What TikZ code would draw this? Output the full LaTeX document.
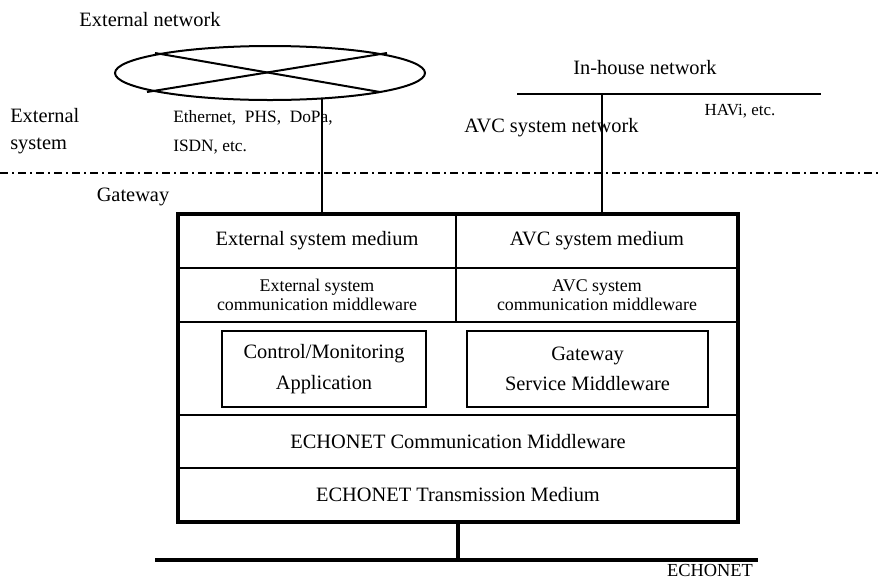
\documentclass[tikz,border=0pt]{standalone}
\usepackage{fontspec}
\setmainfont{Liberation Serif}
\usetikzlibrary{shapes.geometric}
\begin{document}
\begin{tikzpicture}[x=0.75pt,y=-0.75pt,
  thin line/.style={line width=1.5pt},
  big/.style={font=\fontsize{15.3}{18}\selectfont, inner sep=0pt},
  mid/.style={font=\fontsize{13.4}{14.6}\selectfont, inner sep=0pt, align=center},
  cell/.style={draw, line width=1.5pt, inner sep=0pt, align=center, font=\fontsize{15.3}{23}\selectfont},
  smallcell/.style={draw, line width=1.5pt, inner sep=0pt, align=center, font=\fontsize{13.4}{14.4}\selectfont},
  dashdot/.style={line width=1.3pt, dash pattern=on 6pt off 3pt on 1.5pt off 3pt}
]
\useasboundingbox (0,0) rectangle (882,583);

% external network
\node[big] (extnet) at (150,20) {External network};
\node[draw, thin line, ellipse, inner sep=0pt, minimum width=310*0.75pt, minimum height=54*0.75pt] (cloud) at (270,73) {};
\coordinate (xa) at (155,53);
\coordinate (xb) at (380,92);
\coordinate (xc) at (147,92);
\coordinate (xd) at (387,53);
\draw[thin line] (xa) -- (xb);
\draw[thin line] (xc) -- (xd);

% labels
\node[big, anchor=west, align=left, font=\fontsize{15.3}{20}\selectfont] (extsys) at (10,131) {External\\system};
\node[anchor=west, align=left, inner sep=0pt, font=\fontsize{13}{21.75}\selectfont] (media) at (173,132.5) {Ethernet,\ \ PHS,\ \ DoPa,\\ISDN, etc.};
\node[big] (gwlbl) at (133,197) {Gateway};
\node[big] (inhouse) at (645,68) {In-house network};
\node[big] (avcnet) at (551.5,128) {AVC system network};
\node[inner sep=0pt, font=\fontsize{12.7}{15}\selectfont] (havi) at (740,111) {HAVi, etc.};

% dash-dot separator
\coordinate (dl) at (0,173);
\coordinate (dr) at (882,173);
\draw[dashdot] (dl) -- (dr);

% in-house bus
\coordinate (ihl) at (517,94);
\coordinate (ihr) at (821,94);
\coordinate (ihj) at (602,94);
\draw[thin line] (ihl) -- (ihr);

% gateway stack cells
\node[cell, minimum width=278*0.75pt, minimum height=54*0.75pt] (esm) at (317,241) {External system medium};
\node[cell, minimum width=282*0.75pt, minimum height=54*0.75pt] (avm) at (597,241) {AVC system medium};
\node[smallcell, minimum width=278*0.75pt, minimum height=54*0.75pt] (escm) at (317,295) {External system\\communication middleware};
\node[smallcell, minimum width=282*0.75pt, minimum height=54*0.75pt] (avcm) at (597,295) {AVC system\\communication middleware};
\node[cell, minimum width=204*0.75pt, minimum height=76*0.75pt] (cma) at (324,369) {Control/Monitoring\\Application};
\node[cell, minimum width=241*0.75pt, minimum height=76*0.75pt] (gsm) at (587.5,369) {Gateway\\Service Middleware};
\node[cell, minimum width=560*0.75pt, minimum height=53*0.75pt] (ecm) at (458,441.5) {ECHONET Communication Middleware};
\node[cell, minimum width=560*0.75pt, minimum height=54*0.75pt] (etm) at (458,495) {ECHONET Transmission Medium};
\node[draw, line width=3pt, inner sep=0pt, minimum width=560*0.75pt, minimum height=308*0.75pt] (gw) at (458,368) {};

% connectors
\coordinate (ea) at (322,98.5);
\draw[thin line] (ea) -- (ea |- gw.north);
\draw[thin line] (ihj) -- (ihj |- gw.north);

% ECHONET bus
\coordinate (bl) at (155,560);
\coordinate (br) at (758,560);
\draw[line width=2.6pt] (bl) -- (br);
\draw[line width=2.6pt] (gw.south) -- (gw.south |- bl);
\node[inner sep=0pt, font=\fontsize{13.8}{16}\selectfont] (echonet) at (710,570) {ECHONET};
\end{tikzpicture}
\end{document}
